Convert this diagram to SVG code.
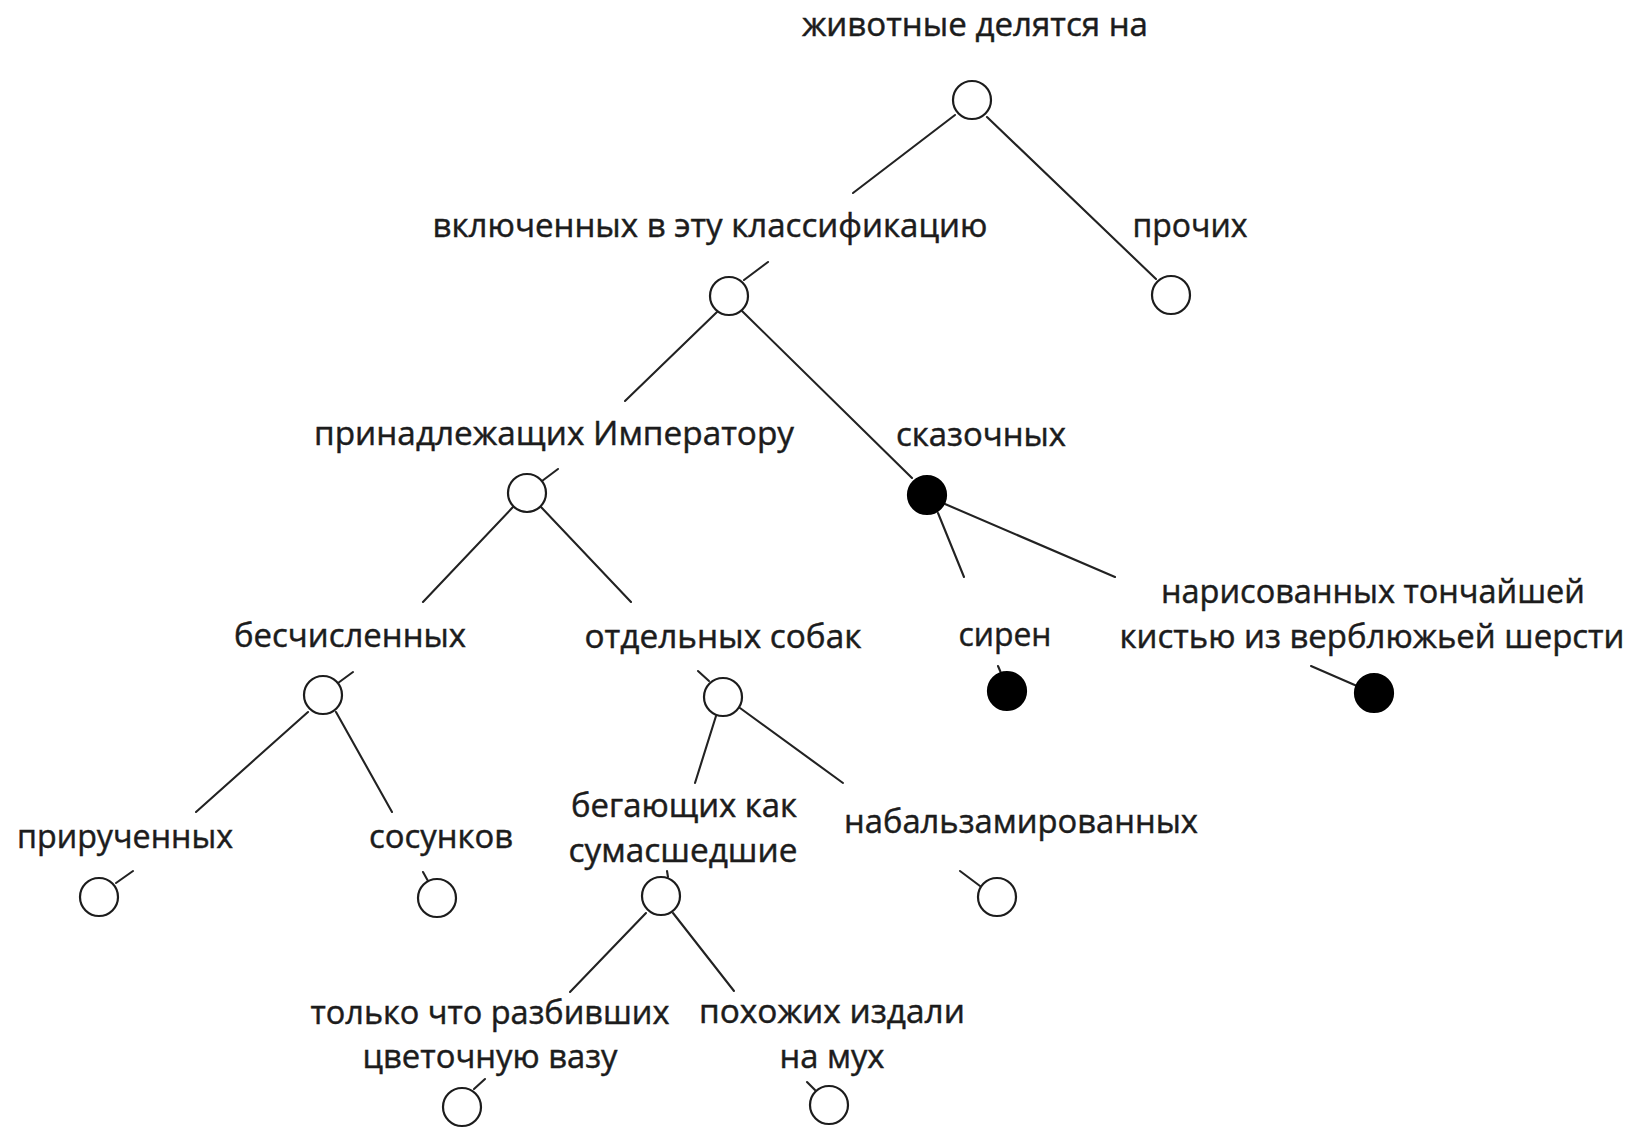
<svg xmlns="http://www.w3.org/2000/svg" width="1634" height="1132" viewBox="0 0 1634 1132">
<style>
text{font-family:"Open Sans","Noto Sans","Liberation Sans",sans-serif;font-size:33px;fill:#1c1c1c;stroke:#1c1c1c;stroke-width:0.45;text-anchor:middle}
circle{stroke:#1c1c1c;stroke-width:2.2;fill:#fff}
circle.f{fill:#000;stroke:#000}
#connectors line{stroke:#222;stroke-width:2.1;stroke-linecap:round}
</style>
<rect width="1634" height="1132" fill="#fff"/>
<g id="connectors">
<line x1="955" y1="115" x2="853" y2="193"/>
<line x1="987" y1="117" x2="1156" y2="279"/>
<line x1="744" y1="280" x2="768" y2="262"/>
<line x1="717" y1="312" x2="625" y2="401"/>
<line x1="742" y1="311" x2="912" y2="478"/>
<line x1="542" y1="481" x2="558" y2="469"/>
<line x1="513" y1="507" x2="423" y2="602"/>
<line x1="541" y1="507" x2="631" y2="602"/>
<line x1="338" y1="683" x2="353" y2="672"/>
<line x1="308" y1="712" x2="196" y2="812"/>
<line x1="336" y1="712" x2="392" y2="812"/>
<line x1="116" y1="883" x2="133" y2="871"/>
<line x1="423" y1="872" x2="428" y2="881"/>
<line x1="698" y1="671" x2="709" y2="681"/>
<line x1="716" y1="716" x2="695" y2="783"/>
<line x1="740" y1="708" x2="843" y2="783"/>
<line x1="938" y1="513" x2="964" y2="577"/>
<line x1="945" y1="504" x2="1115" y2="577"/>
<line x1="998" y1="666" x2="1001" y2="673"/>
<line x1="1311" y1="666" x2="1357" y2="686"/>
<line x1="667" y1="871" x2="668" y2="877"/>
<line x1="960" y1="871" x2="980" y2="886"/>
<line x1="646" y1="913" x2="570" y2="992"/>
<line x1="673" y1="913" x2="734" y2="991"/>
<line x1="474" y1="1089" x2="485" y2="1079"/>
<line x1="807" y1="1082" x2="815" y2="1090"/>
</g>
<g id="n-root"><text x="975" y="36" textLength="346" lengthAdjust="spacingAndGlyphs">животные делятся на</text><circle cx="972" cy="100" r="19"/></g>
<g id="n-included"><text x="710" y="237" textLength="555" lengthAdjust="spacingAndGlyphs">включенных в эту классификацию</text><circle cx="729" cy="296" r="19"/></g>
<g id="n-other"><text x="1190" y="237" textLength="115" lengthAdjust="spacingAndGlyphs">прочих</text><circle cx="1171" cy="295" r="19"/></g>
<g id="n-emperor"><text x="554" y="445" textLength="480" lengthAdjust="spacingAndGlyphs">принадлежащих Императору</text><circle cx="527" cy="493" r="19"/></g>
<g id="n-fabulous"><text x="981" y="446" textLength="170" lengthAdjust="spacingAndGlyphs">сказочных</text><circle class="f" cx="927" cy="495" r="19"/></g>
<g id="n-innumerable"><text x="350" y="647" textLength="232" lengthAdjust="spacingAndGlyphs">бесчисленных</text><circle cx="323" cy="695" r="19"/></g>
<g id="n-dogs"><text x="723" y="648" textLength="277" lengthAdjust="spacingAndGlyphs">отдельных собак</text><circle cx="723" cy="697" r="19"/></g>
<g id="n-sirens"><text x="1005" y="646" textLength="93" lengthAdjust="spacingAndGlyphs">сирен</text><circle class="f" cx="1007" cy="691" r="19"/></g>
<g id="n-painted"><text x="1373" y="603" textLength="424" lengthAdjust="spacingAndGlyphs">нарисованных тончайшей</text><text x="1372" y="648" textLength="505" lengthAdjust="spacingAndGlyphs">кистью из верблюжьей шерсти</text><circle class="f" cx="1374" cy="693" r="19"/></g>
<g id="n-tamed"><text x="125" y="848" textLength="216" lengthAdjust="spacingAndGlyphs">прирученных</text><circle cx="99" cy="897" r="19"/></g>
<g id="n-suckling"><text x="441" y="848" textLength="144" lengthAdjust="spacingAndGlyphs">сосунков</text><circle cx="437" cy="898" r="19"/></g>
<g id="n-running"><text x="684" y="817" textLength="226" lengthAdjust="spacingAndGlyphs">бегающих как</text><text x="683" y="862" textLength="229" lengthAdjust="spacingAndGlyphs">сумасшедшие</text><circle cx="661" cy="896" r="19"/></g>
<g id="n-embalmed"><text x="1021" y="833" textLength="354" lengthAdjust="spacingAndGlyphs">набальзамированных</text><circle cx="997" cy="897" r="19"/></g>
<g id="n-broke"><text x="490" y="1024" textLength="359" lengthAdjust="spacingAndGlyphs">только что разбивших</text><text x="490" y="1068" textLength="255" lengthAdjust="spacingAndGlyphs">цветочную вазу</text><circle cx="462" cy="1107" r="19"/></g>
<g id="n-flies"><text x="832" y="1023" textLength="266" lengthAdjust="spacingAndGlyphs">похожих издали</text><text x="832" y="1068" textLength="105" lengthAdjust="spacingAndGlyphs">на мух</text><circle cx="829" cy="1105" r="19"/></g>
</svg>
